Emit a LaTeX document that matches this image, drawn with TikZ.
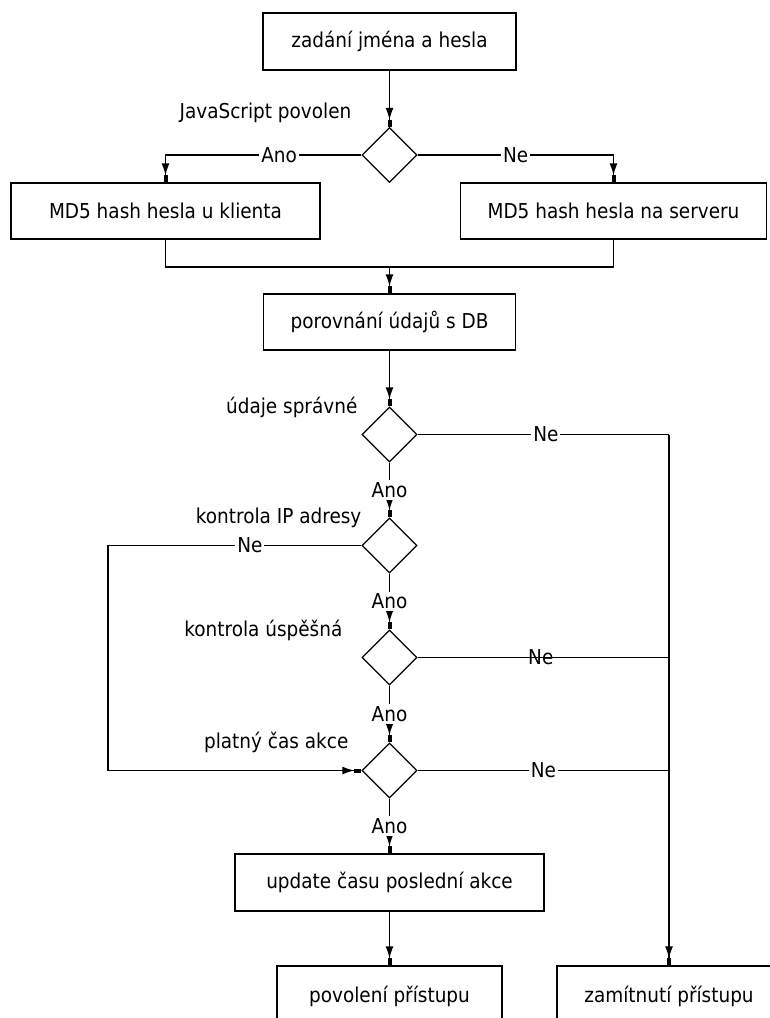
\documentclass[tikz,border=0pt]{standalone}
\usepackage{fontspec}
\setmainfont{DejaVu Sans}[FakeStretch=0.9]
\usetikzlibrary{shapes.geometric,arrows.meta}

\begin{document}
\begin{tikzpicture}[x=1pt,y=-1pt,
  font=\fontsize{20.5}{24}\selectfont,
  line width=1.3pt,
  arr/.style={-{Latex[length=12pt,width=8pt]Rectangle[length=7pt,width=4pt]}},
  box/.style={draw, rectangle, inner sep=0pt, minimum height=57pt},
  decision/.style={draw, diamond, inner sep=0pt, minimum width=55pt, minimum height=55pt},
  cond/.style={anchor=east, inner sep=0pt},
  lbl/.style={fill=white, inner sep=2pt},
  lblclear/.style={inner sep=2pt},
]
\useasboundingbox (0,0) rectangle (770,1018);
\clip (0,0) rectangle (770,1018);

% process boxes
\node[box, minimum width=253pt] (start) at (389.5,41.5) {zadání jména a hesla};
\node[box, minimum width=309pt, minimum height=56pt] (client) at (165.5,211) {MD5 hash hesla u klienta};
\node[box, minimum width=306pt, minimum height=56pt] (server) at (613.5,211) {MD5 hash hesla na serveru};
\node[box, minimum width=252pt, minimum height=56pt] (compare) at (389.5,322) {porovnání údajů s DB};
\node[box, minimum width=309pt] (update) at (389.5,882.5) {update času poslední akce};
\node[box, minimum width=225pt, minimum height=60pt] (grant) at (389.5,996) {povolení přístupu};
\node[box, minimum width=224pt, minimum height=60pt] (deny) at (669,996) {zamítnutí přístupu};

% decisions and their questions
\node[decision] (js) at (389.5,155) {};
\node[cond] (jsq) at (352,113) {JavaScript povolen};
\node[decision] (ok) at (389.5,434.5) {};
\node[cond] (okq) at (358,407) {údaje správné};
\node[decision] (ip) at (389.5,545.5) {};
\node[cond] (ipq) at (362,518) {kontrola IP adresy};
\node[decision] (chk) at (389.5,657.5) {};
\node[cond] (chkq) at (343,630) {kontrola úspěšná};
\node[decision] (time) at (389.5,770.5) {};
\node[cond] (timeq) at (349,742) {platný čas akce};

% routing points
\coordinate (jsL) at (165.5,155);
\coordinate (jsR) at (613.5,155);
\coordinate (mergeL) at (165.5,267);
\coordinate (mergeR) at (613.5,267);
\coordinate (merge) at (389.5,267);
\coordinate (R2) at (669,434.5);
\coordinate (R4) at (669,657.5);
\coordinate (R5) at (669,770.5);
\coordinate (L1) at (108,545.5);
\coordinate (L2) at (108,770.5);

% connectors
\draw[arr] (start) -- (js);
\draw[arr] (js.west) -- node[lbl, pos=0.42] {Ano} (jsL) -- (client.north);
\draw[arr] (js.east) -- node[lbl, pos=0.5] {Ne} (jsR) -- (server.north);
\draw (client.south) -- (mergeL) -- (mergeR) -- (server.south);
\draw[arr] (merge) -- (compare);
\draw[arr] (compare) -- (ok);

\draw (ok.east) -- node[lbl, pos=0.51] {Ne} (R2);
\draw[arr] (R2) -- (deny.north);
\draw[arr] (ok.south) -- node[lbl] {Ano} (ip.north);

\draw[arr] (ip.west) -- node[lbl, pos=0.44] {Ne} (L1) -- (L2) -- (time.west);
\draw[arr] (ip.south) -- node[lbl] {Ano} (chk.north);

\draw (chk.east) -- node[lblclear, pos=0.49] {Ne} (R4);
\draw[arr] (chk.south) -- node[lbl] {Ano} (time.north);

\draw (time.east) -- node[lbl, pos=0.5] {Ne} (R5);
\draw[arr] (time.south) -- node[lbl] {Ano} (update.north);
\draw[arr] (update) -- (grant);
\end{tikzpicture}
\end{document}
